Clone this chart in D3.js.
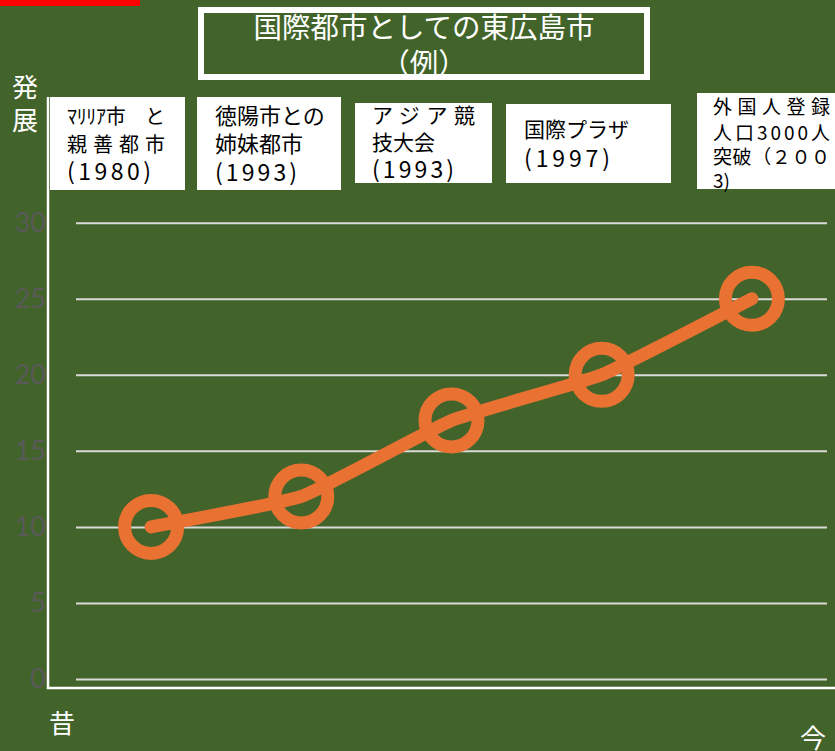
<!DOCTYPE html>
<html>
<head>
<meta charset="utf-8">
<script src="https://cdn.jsdelivr.net/npm/d3@7"></script>
<style>
  html, body { margin: 0; padding: 0; background: #42642a; overflow: hidden; }
  #chart { width: 835px; height: 751px; }
</style>
</head>
<body>
<div id="chart"></div>
<script>
// データ
const categories = ['マリリア市', '徳陽市', 'アジア競技大会', '国際プラザ', '外国人登録'];
const values = [10, 12, 17, 20, 25];
const yTicks = [0, 5, 10, 15, 20, 25, 30];
const eventLabels = [
  ['ﾏﾘﾘｱ市　と', '親善都市', '(1980)'],
  ['徳陽市との', '姉妹都市', '(1993)'],
  ['アジア競', '技大会', '(1993)'],
  ['国際プラザ', '(1997)'],
  ['外国人登録', '人口3000人', '突破（２００', '3)']
];
const titleLines = ['国際都市としての東広島市', '（例）'];

const chart = {};

chart.create = function(config){
  chart.config = config;
  this.config.width_svg = 835;
  this.config.height_svg = 751;
  this.config.svg = d3.select(`#${this.config.target}`)
                      .append('svg')
                      .attr('width', this.config.width_svg)
                      .attr('height', this.config.height_svg);
}

chart.update = function(){
  let svg = this.config.svg,
      width_svg = this.config.width_svg,
      height_svg = this.config.height_svg;
  const jp = '"Noto Sans CJK JP", sans-serif';
  const orange = '#e97132';

  svg.append('rect')
     .attr('width', width_svg)
     .attr('height', height_svg)
     .attr('fill', '#42642a');

  // 左上の赤い帯
  svg.append('rect')
     .attr('x', 0).attr('y', 0)
     .attr('width', 140).attr('height', 6)
     .attr('fill', '#ff0000');

  let xScale = d3.scaleBand()
                .domain(categories)
                .range([76, 827])
                .padding(0);
  let yScale = d3.scaleLinear()
                .domain([0, 30])
                .range([679, 222.7]);
  let cx = d => xScale(d) + xScale.bandwidth() / 2;

  // 目盛線とラベル
  let yAxis = g => g.attr('transform', 'translate(46, 0)')
                    .call(d3.axisLeft(yScale).tickValues(yTicks).tickSize(0).tickPadding(0))
                    .call(g => g.select('.domain').remove())
                    .call(g => g.selectAll('.tick line').clone()
                                .attr('x1', 76 - 46)
                                .attr('x2', 827 - 46)
                                .attr('stroke', '#d9d9d9')
                                .attr('stroke-width', 2))
                    .call(g => g.selectAll('.tick text')
                                .attr('fill', '#595959')
                                .attr('font-size', 27)
                                .attr('font-family', 'Lato, "Open Sans", sans-serif'));
  svg.append('g')
     .attr('id', 'g_yAxis')
     .call(yAxis);

  // 軸線
  svg.append('path')
     .attr('d', `M48,97V688H835`)
     .attr('fill', 'none')
     .attr('stroke', '#ffffff')
     .attr('stroke-width', 2.5);

  // 折れ線（角だけ丸める）
  let line = d3.line()
              .x((d, i) => cx(categories[i]))
              .y(d => yScale(d))
              .curve(d3.curveCardinal.tension(0.65));

  svg.append('g')
     .attr('id', 'g_markers')
     .selectAll('circle')
     .data(values)
     .enter().append('circle')
             .attr('cx', (d, i) => cx(categories[i]))
             .attr('cy', d => yScale(d))
             .attr('r', 26.5)
             .attr('fill', 'none')
             .attr('stroke', orange)
             .attr('stroke-width', 13);

  svg.append('path')
     .datum(values)
     .attr('d', line)
     .attr('fill', 'none')
     .attr('stroke', orange)
     .attr('stroke-width', 13)
     .attr('stroke-linecap', 'round')
     .attr('stroke-linejoin', 'round');

  // タイトル
  svg.append('rect')
     .attr('x', 201).attr('y', 10)
     .attr('width', 446).attr('height', 67)
     .attr('fill', 'none')
     .attr('stroke', '#ffffff')
     .attr('stroke-width', 6);
  svg.append('g')
     .selectAll('text')
     .data(titleLines)
     .enter().append('text')
             .attr('x', 424)
             .attr('y', (d, i) => [25, 61][i])
             .attr('text-anchor', 'middle')
             .attr('dominant-baseline', 'central')
             .attr('fill', '#ffffff')
             .attr('font-size', 28.5)
             .attr('font-family', jp)
             .text(d => d);

  // 出来事のラベル（位置は元の図から）
  const boxes = [
    {x: 50,  y: 97,  w: 135, h: 93, tx: 67,  ys: [115, 143, 170], fs: 20, jw: [98, 98, 84]},
    {x: 197, y: 97,  w: 144, h: 93, tx: 215, ys: [114, 142, 171], fs: 22, jw: [0, 0, 82]},
    {x: 355, y: 103, w: 137, h: 80, tx: 372, ys: [114, 141, 168], fs: 21, jw: [103, 0, 82]},
    {x: 506, y: 104, w: 165, h: 79, tx: 524, ys: [128, 157],      fs: 21, jw: [0, 86]},
    {x: 697, y: 93,  w: 150, h: 96, tx: 713, ys: [105, 131, 155, 179], fs: 19, jw: [117, 117, 117]}
  ];
  let g_labels = svg.append('g').attr('id', 'g_labels');
  eventLabels.forEach((lines, k) => {
    let b = boxes[k];
    g_labels.append('rect')
            .attr('x', b.x).attr('y', b.y)
            .attr('width', b.w).attr('height', b.h)
            .attr('fill', '#ffffff');
    lines.forEach((t, i) => {
      let txt = g_labels.append('text')
                        .attr('x', b.tx)
                        .attr('y', b.ys[i])
                        .attr('dominant-baseline', 'central')
                        .attr('fill', '#000000')
                        .attr('font-size', t[0] === '(' ? 23 : b.fs)
                        .attr('font-family', jp)
                        .text(t);
      if (b.jw[i]) txt.attr('textLength', b.jw[i]).attr('lengthAdjust', 'spacing');
    });
  });

  // 軸の文字
  const axisWords = [
    {t: '発', x: 25, y: 85},
    {t: '展', x: 25, y: 118},
    {t: '昔', x: 62, y: 721},
    {t: '今', x: 813, y: 736}
  ];
  svg.append('g')
     .selectAll('text')
     .data(axisWords)
     .enter().append('text')
             .attr('x', d => d.x)
             .attr('y', d => d.y)
             .attr('text-anchor', 'middle')
             .attr('dominant-baseline', 'central')
             .attr('fill', '#ffffff')
             .attr('font-size', 26)
             .attr('font-family', jp)
             .text(d => d.t);
}

chart.create({target: 'chart'});
chart.update();
</script>
</body>
</html>
